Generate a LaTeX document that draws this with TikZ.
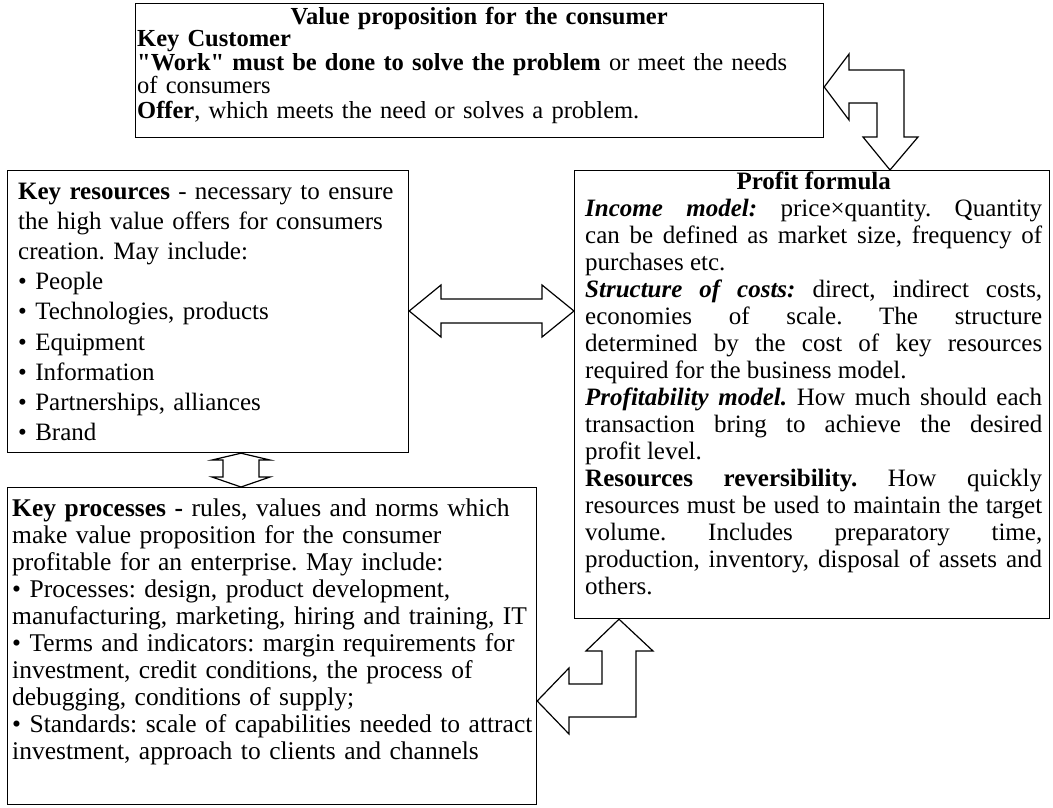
\documentclass[tikz,border=0pt]{standalone}
\usepackage{fontspec}
\setmainfont{Liberation Serif}
\frenchspacing
\begin{document}
\begin{tikzpicture}[x=1pt,y=-1pt,
  box/.style={draw,line width=1.2pt,rectangle,inner sep=0pt,anchor=north west},
  txt/.style={inner sep=0pt,anchor=north west,font=\fontsize{25}{27}\selectfont\frenchspacing},
  blockarrow/.style={draw,line width=1.2pt,fill=white,line join=miter}]
\useasboundingbox (0,0) rectangle (1053,807);
% boxes
\node[box,minimum width=688pt,minimum height=134pt] (vp) at (135,3) {};
\node[box,minimum width=401pt,minimum height=282pt] (kr) at (7,170) {};
\node[box,minimum width=475pt,minimum height=448pt] (pf) at (574,170) {};
\node[box,minimum width=529pt,minimum height=317pt] (kp) at (7,487) {};
% texts
\node[txt,text width=684pt,align=left,font=\fontsize{24.5}{19.5}\selectfont\frenchspacing] (vpt) at (137,7) {%
\parbox{684pt}{\centering\bfseries Value proposition for the consumer}\\
\textbf{Key Customer}\\
\textbf{\textquotedbl Work\textquotedbl\ must be done to solve the problem} or meet the needs\\
of consumers\\[5pt]
\textbf{Offer}, which meets the need or solves a problem.};
\node[txt,text width=385pt,align=left,font=\fontsize{25}{30.1}\selectfont\frenchspacing] (krt) at (18,183) {%
\textbf{Key resources} - necessary to ensure\\
the high value offers for consumers\\
creation. May include:\\
• People\\
• Technologies, products\\
• Equipment\\
• Information\\
• Partnerships, alliances\\
• Brand};
\node[txt,text width=457pt,align=justify] (pft) at (585,172) {%
\parindent=0pt
{\centering\bfseries Profit formula\par}
\textbf{\textit{Income model:}} price×quantity. Quantity\linebreak
can be defined as market size, frequency of\linebreak
purchases etc.\par
\textbf{\textit{Structure of costs:}} direct, indirect costs,\linebreak
economies of scale. The structure\linebreak
determined by the cost of key resources\linebreak
required for the business model.\par
\textbf{\textit{Profitability model.}} How much should each\linebreak
transaction bring to achieve the desired\linebreak
profit level.\par
\textbf{Resources reversibility.} How quickly\linebreak
resources must be used to maintain the target\linebreak
volume. Includes preparatory time,\linebreak
production, inventory, disposal of assets and\linebreak
others.\par};
\node[txt,text width=522pt,align=left,font=\fontsize{25.5}{27}\selectfont\frenchspacing] (kpt) at (12,499) {%
\textbf{Key processes -} rules, values and norms which\\
make value proposition for the consumer\\
profitable for an enterprise. May include:\\
• Processes: design, product development,\\
manufacturing, marketing, hiring and training, IT\\
• Terms and indicators: margin requirements for\\
investment, credit conditions, the process of\\
debugging, conditions of supply;\\
• Standards: scale of capabilities needed to attract\\
investment, approach to clients and channels};
% block arrows
\draw[blockarrow] (vp.east |- 0,87) -- (849,54) -- (849,70) -- (904,70) -- (904,137)
  -- (918,137) -- (pf.north -| 890,0) -- (863,137) -- (877,137) -- (877,103)
  -- (849,103) -- (849,120) -- cycle;
\draw[blockarrow] (kr.east |- 0,311) -- (441,285) -- (441,299) -- (542,299) -- (542,285)
  -- (pf.west |- 0,311) -- (542,337) -- (542,323) -- (441,323) -- (441,337) -- cycle;
\draw[blockarrow] (kr.south -| 241,0) -- (270,460) -- (259,460) -- (259,477) -- (270,477)
  -- (kp.north -| 241,0) -- (212,477) -- (223,477) -- (223,460) -- (212,460) -- cycle;
\draw[blockarrow] (pf.south -| 619,0) -- (653,651) -- (636,651) -- (636,717) -- (569,717)
  -- (569,734) -- (kp.east |- 0,701) -- (569,668) -- (569,684) -- (602,684) -- (602,651)
  -- (586,651) -- cycle;
\end{tikzpicture}
\end{document}
